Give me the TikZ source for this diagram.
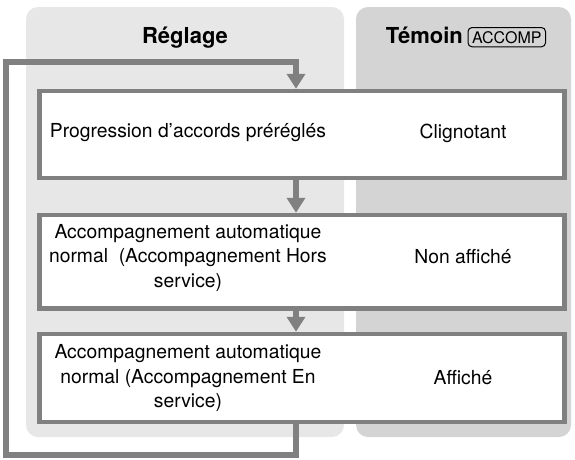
\documentclass[tikz,border=0pt]{standalone}
\usepackage{fontspec}
\setmainfont{TeX Gyre Heros}
\usetikzlibrary{arrows.meta}

\definecolor{panelA}{gray}{0.905}
\definecolor{panelB}{gray}{0.83}
\definecolor{lineg}{gray}{0.50}

\begin{document}
\begin{tikzpicture}[x=1pt,y=-1pt,
	panel/.style={fill=#1,rounded corners=12pt,inner sep=0pt,minimum height=430pt},
	stage/.style={draw=lineg,line width=4.5pt,fill=white,minimum width=525pt,inner sep=0pt},
	txt/.style={align=center,font=\fontsize{19.3}{24.5}\selectfont,inner sep=0pt},
	head/.style={font=\fontsize{22}{26}\selectfont\bfseries,inner sep=0pt},
	keybox/.style={draw=black,line width=1pt,rounded corners=4pt,font=\fontsize{16}{18}\selectfont,inner xsep=4pt,inner ysep=3.5pt},
	flow/.style={draw=lineg,line width=6pt,-{Triangle[width=18pt,length=15pt]}}]
	\useasboundingbox (0,0) rectangle (575,459);
	
	\node (REG)[panel=panelA,minimum width=318pt] at (185,222) {};
	\node (TEM)[panel=panelB,minimum width=215pt] at (463.5,222) {};
	\node (HREG)[head,anchor=base] at (185,43) {Réglage};
	\node (HTEM)[head,anchor=base east] at (463,43) {Témoin};
	\node (ACC)[keybox,anchor=base west] at ([xshift=4.5pt]HTEM.base east) {ACCOMP};
	
	\node (P)[stage,minimum height=87pt] at (302,134.5) {};
	\node (H)[stage,minimum height=93.5pt] at (302,261.75) {};
	\node (E)[stage,minimum height=88pt] at (302,378) {};
	
	\node (PL)[txt] at (188,133) {Progression d’accords préréglés};
	\node (PR)[txt] at (463,133) {Clignotant};
	\node (HL)[txt] at (188,258) {Accompagnement automatique\\normal~ (Accompagnement Hors\\service)};
	\node (HR)[txt] at (463,257) {Non affiché};
	\node (EL)[txt] at (188,378) {Accompagnement automatique\\normal (Accompagnement En\\service)};
	\node (ER)[txt] at (463,378) {Affiché};
	
	\coordinate (col) at (296,61.5);
	\coordinate (loopbot) at (6,455);
	
	\draw[flow] 
	(P.south -| col)--(H.north -| col);
	
	\draw[flow] 
	(H.south -| col)--(E.north -| col);
	
	\draw[flow] 
	(E.south -| col) |- (loopbot) |- (col)--(P.north -| col);
\end{tikzpicture}
\end{document}
